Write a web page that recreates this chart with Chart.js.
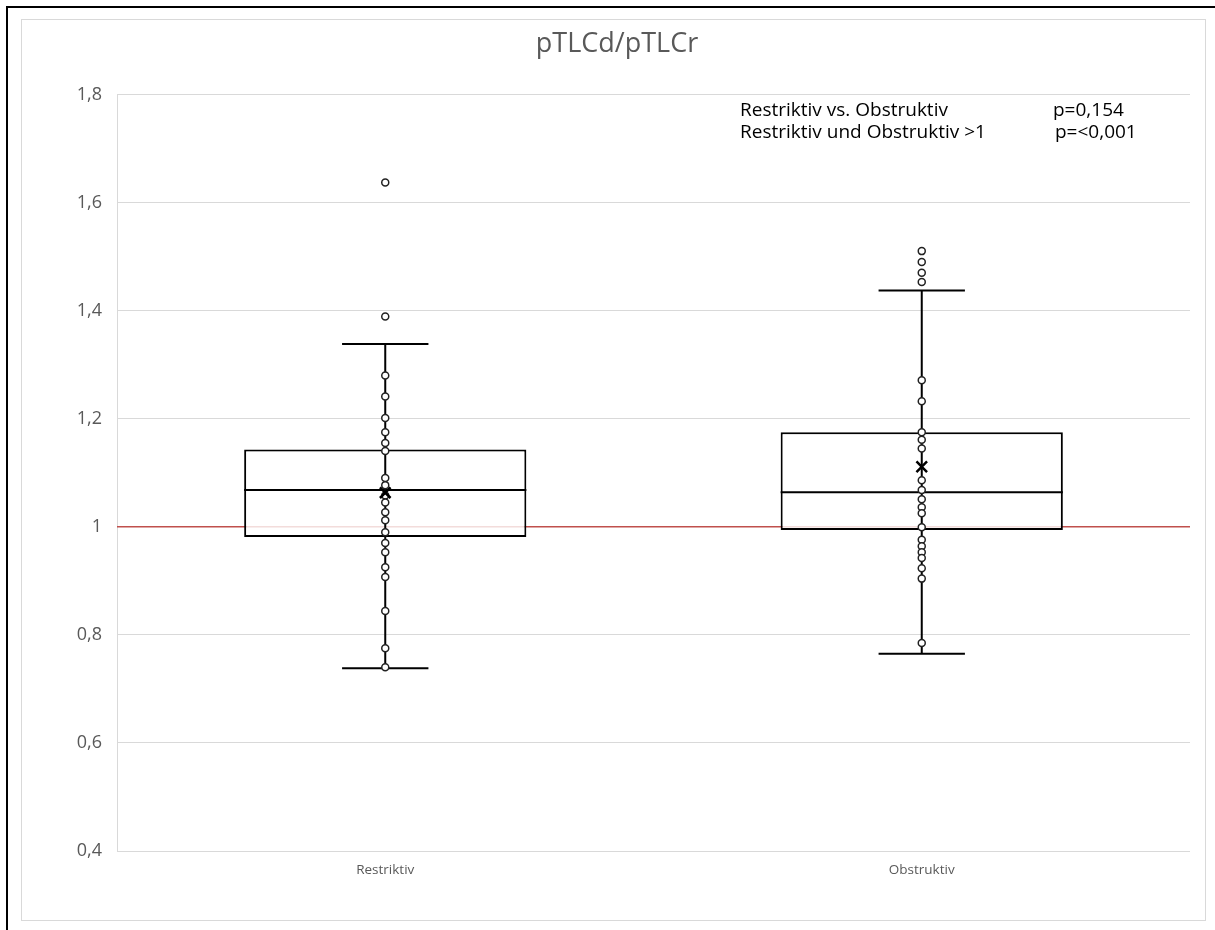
<!DOCTYPE html>
<html>
<head>
<meta charset="utf-8">
<script src="https://cdn.jsdelivr.net/npm/chart.js@4.4.0/dist/chart.umd.min.js"></script>
<style>
  html, body { margin: 0; padding: 0; background: #fff; }
  #frame { position: absolute; left: 6px; top: 6px; width: 1215px; height: 930px; border-left: 2px solid #000; border-top: 2px solid #000; }
  #inner { position: absolute; left: 21px; top: 19px; width: 1183px; height: 900px; border: 1px solid #d9d9d9; }
  #wrap { position: absolute; left: 0; top: 0; width: 1215px; height: 930px; }
</style>
</head>
<body>
<div id="frame"></div>
<div id="inner"></div>
<div id="wrap"><canvas id="chart" width="1215" height="930"></canvas></div>
<script>
// categories and values
var categories = ['Restriktiv', 'Obstruktiv'];
var restriktivValues = [1.637, 1.389, 1.280, 1.241, 1.201, 1.175, 1.155, 1.140, 1.090, 1.077, 1.058, 1.045, 1.027, 1.012, 0.990, 0.970, 0.953, 0.925, 0.907, 0.844, 0.775, 0.740];
var obstruktivValues = [1.510, 1.490, 1.470, 1.453, 1.271, 1.232, 1.175, 1.161, 1.145, 1.086, 1.068, 1.051, 1.036, 1.025, 0.999, 0.976, 0.964, 0.953, 0.942, 0.923, 0.904, 0.785];
var whiskerLow = [0.738, 0.765];
var quartile1 = [0.981, 0.994];
var medians = [1.068, 1.064];
var quartile3 = [1.143, 1.175];
var whiskerHigh = [1.338, 1.437];
var means = [1.063, 1.111];
var referenceValue = 1;
var yTicks = [0.4, 0.6, 0.8, 1, 1.2, 1.4, 1.6, 1.8];
var noteLeft = ['Restriktiv vs. Obstruktiv', 'Restriktiv und Obstruktiv >1'];
var noteRight = ['p=0,154', 'p=<0,001'];

var FONT = '"Open Sans", sans-serif';

function pointsFor(label, values) {
    return values.map(function(v) { return { x: label, y: v }; });
}

// red line at 1, drawn under the boxes
var referenceLine = {
    id: 'referenceLine',
    beforeDatasetsDraw: function(chart) {
        var ctx = chart.ctx, area = chart.chartArea;
        var y = chart.scales.y.getPixelForValue(referenceValue);
        ctx.save();
        ctx.strokeStyle = '#c0504d';
        ctx.lineWidth = 1.5;
        ctx.beginPath();
        ctx.moveTo(area.left, y);
        ctx.lineTo(area.right, y);
        ctx.stroke();
        ctx.restore();
    }
};

// whiskers and median, drawn right after the box bars
var whiskers = {
    id: 'whiskers',
    afterDatasetDraw: function(chart, args) {
        if (args.index !== 3) return;
        var ctx = chart.ctx, yScale = chart.scales.y;
        ctx.save();
        ctx.strokeStyle = '#000';
        ctx.lineWidth = 2;
        args.meta.data.forEach(function(bar, i) {
            var x = bar.x, half = bar.width / 2, cap = bar.width * 0.153;
            var yLow = yScale.getPixelForValue(whiskerLow[i]);
            var yHigh = yScale.getPixelForValue(whiskerHigh[i]);
            var yMed = yScale.getPixelForValue(medians[i]);
            ctx.beginPath();
            ctx.moveTo(x, yLow); ctx.lineTo(x, yHigh);
            ctx.moveTo(x - cap, yLow); ctx.lineTo(x + cap, yLow);
            ctx.moveTo(x - cap, yHigh); ctx.lineTo(x + cap, yHigh);
            ctx.moveTo(x - half, yMed); ctx.lineTo(x + half, yMed);
            ctx.stroke();
        });
        ctx.restore();
    }
};

// the p-value note in the upper right
var note = {
    id: 'note',
    afterDraw: function(chart) {
        var ctx = chart.ctx;
        ctx.save();
        ctx.fillStyle = '#000';
        ctx.font = '19px ' + FONT;
        ctx.textBaseline = 'middle';
        ctx.fillText(noteLeft[0], 740, 111);
        ctx.fillText(noteLeft[1], 740, 133);
        ctx.fillText(noteRight[0], 1053, 111);
        ctx.fillText(noteRight[1], 1055, 133);
        ctx.restore();
    }
};

new Chart(document.getElementById('chart'), {
    type: 'bar',
    data: {
        labels: categories,
        datasets: [
            {
                type: 'line', label: 'Mittelwert',
                data: categories.map(function(c, i) { return { x: c, y: means[i] }; }),
                showLine: false, pointStyle: 'crossRot', pointRadius: 7.5,
                pointBorderWidth: 2.5, pointBorderColor: '#000', order: 0
            },
            {
                type: 'line', label: 'Restriktiv', data: pointsFor('Restriktiv', restriktivValues),
                showLine: false, pointStyle: 'circle', pointRadius: 3.5, pointBorderWidth: 1.5,
                pointBorderColor: '#222', pointBackgroundColor: '#fff', order: 1
            },
            {
                type: 'line', label: 'Obstruktiv', data: pointsFor('Obstruktiv', obstruktivValues),
                showLine: false, pointStyle: 'circle', pointRadius: 3.5, pointBorderWidth: 1.5,
                pointBorderColor: '#222', pointBackgroundColor: '#fff', order: 1
            },
            {
                type: 'bar', label: 'Box',
                data: categories.map(function(c, i) { return [quartile1[i], quartile3[i]]; }),
                backgroundColor: 'rgba(255,255,255,0.8)', borderColor: '#000', borderWidth: 2,
                borderSkipped: false, barPercentage: 0.526, categoryPercentage: 1, order: 5
            }
        ]
    },
    options: {
        responsive: false,
        animation: false,
        layout: { padding: { left: 44, right: 25, top: 0, bottom: 0 } },
        plugins: {
            legend: { display: false },
            tooltip: { enabled: false },
            title: {
                display: true, text: 'pTLCd/pTLCr', color: '#595959',
                font: { family: FONT, size: 27, weight: 'normal' },
                padding: { top: 28, bottom: 34 }
            }
        },
        scales: {
            x: {
                grid: { display: false },
                border: { display: false },
                ticks: { color: '#595959', font: { family: FONT, size: 13.5 }, padding: 3 },
                afterFit: function(s) { s.height = 79; }
            },
            y: {
                min: 0.4, max: 1.8,
                afterBuildTicks: function(s) { s.ticks = yTicks.map(function(v) { return { value: v }; }); },
                grid: { color: '#d9d9d9', drawTicks: false },
                border: { display: true, color: '#d9d9d9' },
                ticks: {
                    color: '#595959', font: { family: FONT, size: 18 }, padding: 15,
                    callback: function(v) { return String(Math.round(v * 10) / 10).replace('.', ','); }
                },
                afterFit: function(s) { s.width = 73; }
            }
        }
    },
    plugins: [referenceLine, whiskers, note]
});
</script>
</body>
</html>
